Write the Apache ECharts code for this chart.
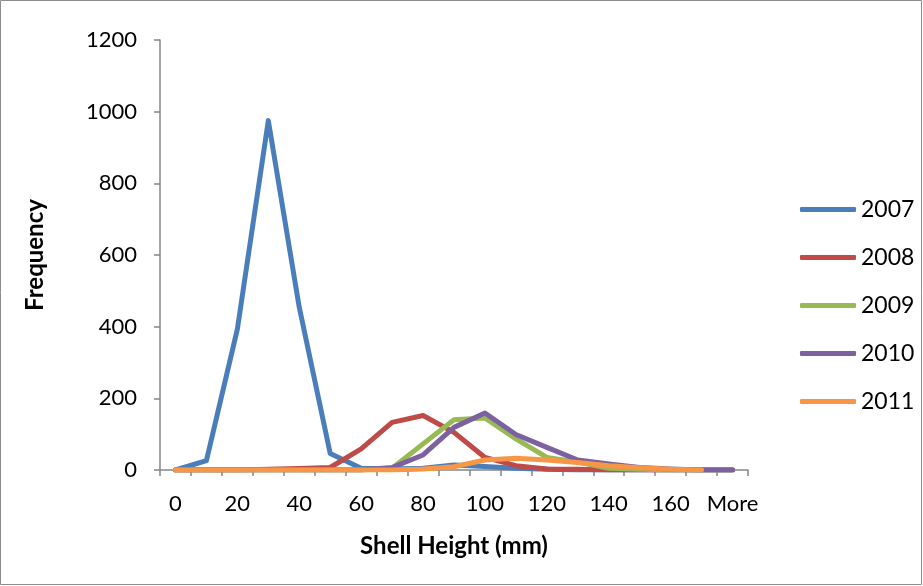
<!DOCTYPE html>
<html><head><meta charset="utf-8">
<script src="https://cdn.jsdelivr.net/npm/echarts@6/dist/echarts.min.js"></script>
<style>html,body{margin:0;padding:0;background:#fff}#c{width:923px;height:586px}</style>
</head><body><div id="c"></div>
<script>
var categories = ['0','10','20','30','40','50','60','70','80','90','100','110','120','130','140','150','160','170','More'];
var s2007 = [0, 26, 393, 975, 454, 46, 5, 3, 5, 14, 10, 5, 2, 0, 0, 0, 0, 0, 0];
var s2008 = [0, 0, 0, 2, 4, 7, 59, 133, 152, 105, 35, 12, 3, 2, 0, 0, 0, 0, 0];
var s2009 = [0, 0, 0, 0, 0, 0, 0, 5, 73, 140, 145, 87, 35, 22, 5, 2, 0, 0, 0];
var s2010 = [0, 0, 0, 0, 0, 0, 0, 7, 42, 119, 159, 99, 63, 28, 17, 7, 3, 0, 0];
var s2011 = [0, 0, 0, 0, 0, 0, 0, 0, 3, 9, 28, 33, 28, 21, 12, 6, 2, 0, null];
var seriesNames = ['2007','2008','2009','2010','2011'];
var colors = ['#4A7EBB','#BE4B48','#98B954','#7D60A0','#F79646'];
var yTicks = {min:0, max:1200, interval:200};

var all = [s2007, s2008, s2009, s2010, s2011];
var font = 'Lato, "Open Sans", sans-serif';
var chart = echarts.init(document.getElementById('c'), null, {renderer:'canvas'});
chart.setOption({
  animation:false,
  color: colors,
  graphic:[{type:'rect', shape:{x:0.5,y:0.5,width:921,height:584}, style:{fill:'none', stroke:'#8c8c8c', lineWidth:1}}],
  grid:{left:160, right:175, top:40, bottom:116},
  legend:{
    orient:'vertical', left:795, top:193,
    itemWidth:56, itemHeight:5, itemGap:25, icon:'roundRect',
    textStyle:{fontFamily:font, fontSize:23, color:'#000', lineHeight:23},
    data: seriesNames
  },
  xAxis:{
    type:'category', data:categories, boundaryGap:true,
    name:'Shell Height (mm)', nameLocation:'middle', nameGap:64,
    nameTextStyle:{fontFamily:font, fontSize:24, fontWeight:'bold', color:'#000'},
    axisLine:{lineStyle:{color:'#868686', width:1.5}},
    axisTick:{show:true, interval:0, length:6, lineStyle:{color:'#868686', width:1.5}},
    axisLabel:{interval:1, fontFamily:font, fontSize:22, color:'#000', margin:23}
  },
  yAxis:{
    type:'value', min:yTicks.min, max:yTicks.max, interval:yTicks.interval,
    name:'Frequency', nameLocation:'middle', nameGap:113, nameRotate:90,
    nameTextStyle:{fontFamily:font, fontSize:24, fontWeight:'bold', color:'#000'},
    axisLine:{show:true, lineStyle:{color:'#868686', width:1.5}},
    axisTick:{show:true, length:6, lineStyle:{color:'#868686', width:1.5}},
    splitLine:{show:false},
    axisLabel:{fontFamily:font, fontSize:22, color:'#000', margin:23, formatter:function(v){return String(v);}}
  },
  series: seriesNames.map(function(n,i){
    return {name:n, type:'line', data:all[i], symbol:'none', smooth:false,
      lineStyle:{width:5, color:colors[i], cap:'round', join:'round'},
      itemStyle:{color:colors[i]}};
  })
});
</script></body></html>
